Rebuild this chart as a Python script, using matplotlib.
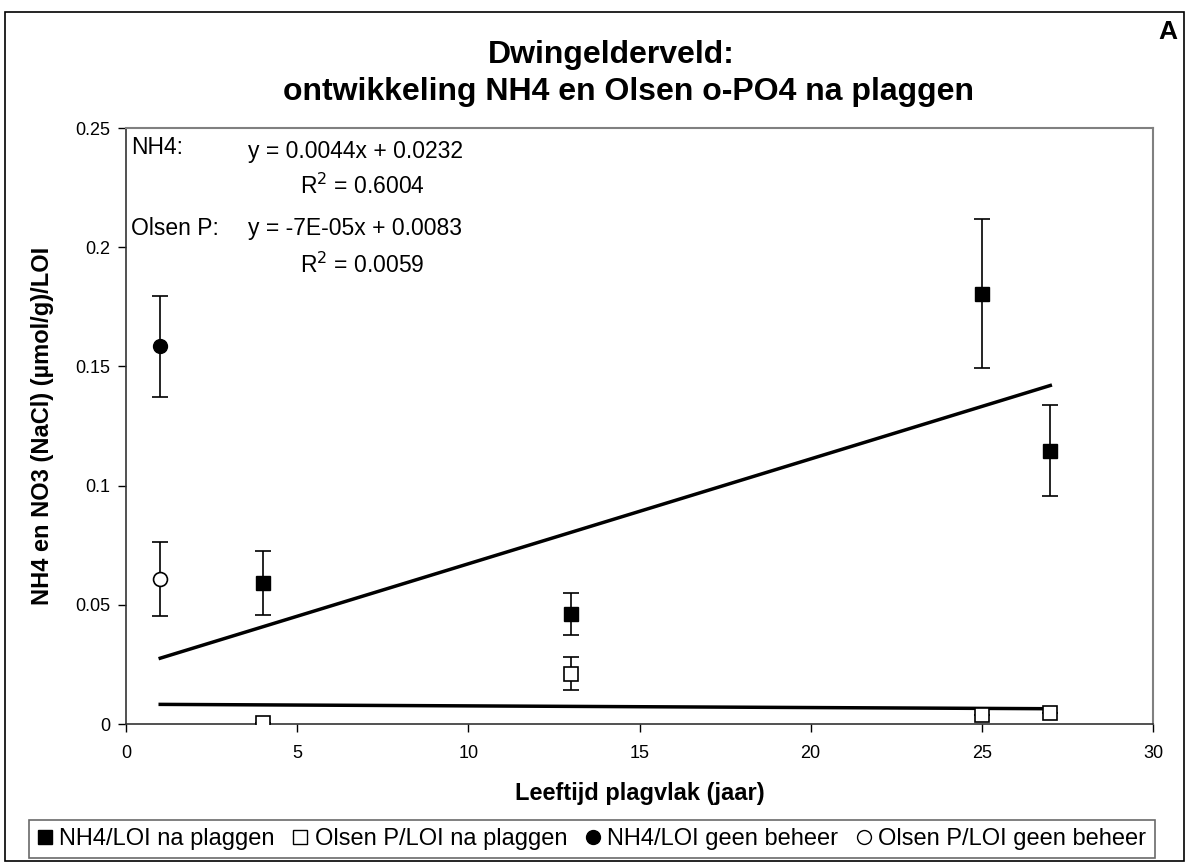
import numpy as np
import matplotlib.pyplot as plt
from matplotlib.patches import Rectangle
from matplotlib.lines import Line2D

plt.rcParams['font.family'] = ['Liberation Sans', 'DejaVu Sans']

# NH4/LOI na plaggen
x_nh4 = [4, 13, 25, 27]
y_nh4 = [0.0592, 0.0462, 0.1805, 0.1147]
e_nh4 = [0.0133, 0.0088, 0.0312, 0.0190]

# Olsen P/LOI na plaggen
x_ol = [4, 13, 25, 27]
y_ol = [0.0005, 0.0210, 0.0038, 0.0046]
e_ol = [0.0, 0.0069, 0.0, 0.0]

# geen beheer (x = 1)
x_gb = [1]
y_nh4_gb = [0.1585]
e_nh4_gb = [0.0212]
y_ol_gb = [0.0607]
e_ol_gb = [0.0155]

# trendlines (Excel)
fit_nh4 = (0.0044, 0.0232)
fit_ol = (-7e-05, 0.0083)
fit_x = [1, 27]

W, H = 1186, 863
fig = plt.figure(figsize=(11.86, 8.63), dpi=100)
ax = fig.add_axes([126/W, 1-724/H, (1153-126)/W, (724-128)/H])

xs = np.array(fit_x)
ax.plot(xs, fit_nh4[0]*xs + fit_nh4[1], color='black', lw=2.5, zorder=2)
ax.plot(xs, fit_ol[0]*xs + fit_ol[1], color='black', lw=2.5, zorder=2)

eb = dict(ecolor='black', elinewidth=1.2, capsize=5.5, capthick=1.2, ls='none', zorder=3)
ax.errorbar(x_nh4, y_nh4, yerr=e_nh4, marker='s', ms=10, mfc='black', mec='black', **eb)
ax.errorbar(x_ol, y_ol, yerr=e_ol, marker='s', ms=10, mfc='white', mec='black', mew=1.2, **eb)
ax.errorbar(x_gb, y_nh4_gb, yerr=e_nh4_gb, marker='o', ms=10, mfc='black', mec='black', **eb)
ax.errorbar(x_gb, y_ol_gb, yerr=e_ol_gb, marker='o', ms=10, mfc='white', mec='black', mew=1.2, **eb)

ax.set_xlim(0, 30)
ax.set_ylim(0, 0.25)
ax.set_xticks([0, 5, 10, 15, 20, 25, 30])
ax.set_yticks([0, 0.05, 0.1, 0.15, 0.2, 0.25])
ax.set_yticklabels(['0', '0.05', '0.1', '0.15', '0.2', '0.25'])
ax.tick_params(direction='out', length=6, width=1, labelsize=13, colors='black', pad=5)
ax.tick_params(axis='x', pad=9)
for s in ['top', 'right']:
    ax.spines[s].set_color('#808080')
    ax.spines[s].set_linewidth(1.5)
for s in ['left', 'bottom']:
    ax.spines[s].set_color('#333333')
    ax.spines[s].set_linewidth(1.2)
ax.patch.set_alpha(0)

# axis titles (placed like the Excel chart)
fig.text(640/W, 1-800/H, 'Leeftijd plagvlak (jaar)', ha='center', va='baseline',
         fontsize=17, fontweight='bold')
fig.text(42/W, 1-426/H, 'NH4 en NO3 (NaCl) (µmol/g)/LOI', ha='center', va='center',
         rotation=90, fontsize=17, fontweight='bold')

fig.text(488/W, 1-63/H, 'Dwingelderveld:', ha='left', va='baseline',
         fontsize=23, fontweight='bold')
fig.text(283/W, 1-100/H, 'ontwikkeling NH4 en Olsen o-PO4 na plaggen', ha='left', va='baseline',
         fontsize=23, fontweight='bold')
fig.text(1168/W, 1-32/H, 'A', ha='center', va='center', fontsize=19, fontweight='bold')

tk = dict(transform=fig.transFigure, fontsize=16.5, va='center')
fig.text(131/W, 1-147/H, 'NH4:', ha='left', **tk)
fig.text(248/W, 1-151/H, 'y = 0.0044x + 0.0232', ha='left', **tk)
fig.text(300/W, 1-186/H, r'R$^2$ = 0.6004', ha='left', **tk)
fig.text(131/W, 1-228/H, 'Olsen P:', ha='left', **tk)
fig.text(248/W, 1-228/H, 'y = -7E-05x + 0.0083', ha='left', **tk)
fig.text(300/W, 1-265/H, r'R$^2$ = 0.0059', ha='left', **tk)

handles = [
    Line2D([], [], ls='none', marker='s', ms=10, mfc='black', mec='black'),
    Line2D([], [], ls='none', marker='s', ms=10, mfc='white', mec='black', mew=1),
    Line2D([], [], ls='none', marker='o', ms=10, mfc='black', mec='black'),
    Line2D([], [], ls='none', marker='o', ms=10, mfc='white', mec='black', mew=1),
]
labels = ['NH4/LOI na plaggen', 'Olsen P/LOI na plaggen', 'NH4/LOI geen beheer', 'Olsen P/LOI geen beheer']
leg = fig.legend(handles, labels, loc='center', bbox_to_anchor=(592/W, 1-839/H), ncol=4,
                 fontsize=17, frameon=True, fancybox=False, edgecolor='#444444',
                 handlelength=0.6, handletextpad=0.3, columnspacing=0.8, borderpad=0.35)
leg.get_frame().set_linewidth(1.2)

fig.patches.append(Rectangle((5/W, 0.002), 1179/W, 1-12/H-0.002, transform=fig.transFigure,
                             fill=False, edgecolor='black', lw=1.2))

fig.savefig('out.png', dpi=100)
